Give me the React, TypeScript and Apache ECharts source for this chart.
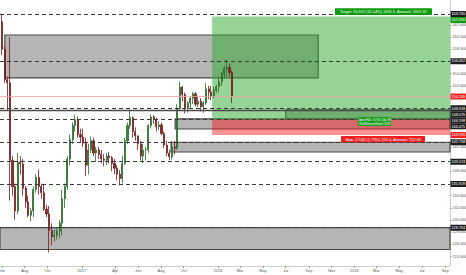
import React, { useEffect, useRef } from "react";
import * as echarts from "echarts";

const FONT = '"Liberation Sans", Arial, sans-serif';

// weekly candles (week starting Monday)
const candleWeeks = [
  "2016-05-30","2016-06-06","2016-06-13","2016-06-20","2016-06-27","2016-07-04","2016-07-11","2016-07-18","2016-07-25",
  "2016-08-01","2016-08-08","2016-08-15","2016-08-22","2016-08-29","2016-09-05","2016-09-12","2016-09-19","2016-09-26",
  "2016-10-03","2016-10-10","2016-10-17","2016-10-24","2016-10-31","2016-11-07","2016-11-14","2016-11-21","2016-11-28",
  "2016-12-05","2016-12-12","2016-12-19","2016-12-26","2017-01-02","2017-01-09","2017-01-16","2017-01-23","2017-01-30",
  "2017-02-06","2017-02-13","2017-02-20","2017-02-27","2017-03-06","2017-03-13","2017-03-20","2017-03-27","2017-04-03",
  "2017-04-10","2017-04-17","2017-04-24","2017-05-01","2017-05-08","2017-05-15","2017-05-22","2017-05-29","2017-06-05",
  "2017-06-12","2017-06-19","2017-06-26","2017-07-03","2017-07-10","2017-07-17","2017-07-24","2017-07-31","2017-08-07",
  "2017-08-14","2017-08-21","2017-08-28","2017-09-04","2017-09-11","2017-09-18","2017-09-25","2017-10-02","2017-10-09",
  "2017-10-16","2017-10-23","2017-10-30","2017-11-06","2017-11-13","2017-11-20","2017-11-27","2017-12-04","2017-12-11",
  "2017-12-18","2017-12-25","2018-01-01","2018-01-08","2018-01-15","2018-01-22","2018-01-29","2018-02-05"
];
const opens = [
  162.5,158.0,153.0,152.5,139.8,135.5,131.5,139.5,139.2,
  135.2,133.0,130.8,131.5,135.0,137.0,135.5,134.5,131.8,
  131.0,128.3,127.3,127.5,128.2,129.5,133.5,135.5,140.0,
  143.2,145.5,146.5,144.0,143.6,142.6,139.0,141.5,143.0,
  141.0,141.5,140.8,140.0,139.8,140.5,140.2,139.3,138.5,
  137.5,136.8,139.3,143.0,145.5,146.8,144.5,143.8,142.5,
  140.5,141.5,141.5,145.5,146.9,146.5,145.3,145.6,144.2,
  142.3,141.0,140.4,142.0,141.8,148.3,151.8,150.6,148.3,
  149.2,150.0,150.7,149.0,149.5,148.6,149.2,151.5,151.0,
  150.3,151.3,151.9,152.7,154.0,154.8,155.0,154.2
];
const highs = [
  163.8,158.5,153.5,160.0,140.5,136.0,141.0,140.5,140.0,
  135.6,134.0,132.0,135.5,137.5,138.3,136.0,135.8,132.5,
  132.3,129.5,128.5,128.8,130.0,135.0,136.0,140.5,144.0,
  146.0,147.3,147.0,145.0,145.0,143.5,142.5,143.7,143.5,
  142.0,142.0,141.5,140.8,141.0,141.2,140.5,140.0,139.0,
  138.2,140.5,143.5,146.0,148.1,147.0,145.2,143.9,143.0,
  142.5,142.0,145.7,147.3,147.2,146.8,146.2,146.0,144.5,
  143.0,141.5,143.0,143.0,149.0,152.7,152.0,150.9,149.5,
  150.2,151.0,151.0,150.2,150.0,149.5,152.5,152.0,152.0,
  151.8,152.2,153.3,154.3,155.3,156.3,155.7,154.5
];
const lows = [
  157.0,152.5,148.0,133.2,134.0,130.0,131.0,137.5,134.0,
  132.0,130.5,129.8,130.5,134.5,134.2,133.5,131.5,130.5,
  124.7,125.9,126.5,126.8,127.0,127.5,132.0,135.0,139.0,
  142.5,144.5,143.5,142.8,142.0,137.2,137.5,141.0,140.5,
  139.5,140.0,139.3,138.8,139.0,139.3,138.0,137.5,136.5,
  135.7,136.0,139.0,142.5,145.0,143.5,143.0,141.5,139.8,
  139.3,139.8,141.0,145.0,145.8,144.5,144.8,143.9,141.8,
  140.5,139.8,139.9,140.8,141.5,148.0,149.5,147.5,147.6,
  148.3,149.0,148.6,148.5,147.8,147.6,148.9,149.8,149.7,
  150.0,150.8,151.0,152.0,153.2,153.5,153.5,149.2
];
const closes = [
  158.0,153.0,152.5,139.8,135.5,131.5,139.5,139.2,135.2,
  133.0,130.8,131.5,135.0,137.0,135.5,134.5,131.8,131.0,
  128.3,127.3,127.5,128.2,129.5,133.5,135.5,140.0,143.2,
  145.5,146.5,144.0,143.6,142.6,139.0,141.5,143.0,141.0,
  141.5,140.8,140.0,139.8,140.5,140.2,139.3,138.5,137.5,
  136.8,139.3,143.0,145.5,146.8,144.5,143.8,142.5,140.5,
  141.5,141.5,145.5,146.9,146.5,145.3,145.6,144.2,142.3,
  141.0,140.4,142.0,141.8,148.3,151.8,150.6,148.3,149.2,
  150.0,150.7,149.0,149.5,148.6,149.2,151.5,151.0,150.3,
  151.3,151.9,152.7,154.0,154.8,155.0,154.2,150.249
];

const monthTicks = [
  "2016-06-01","2016-08-01","2016-10-01","2017-01-01","2017-04-01","2017-06-01","2017-08-01","2017-10-01",
  "2018-01-01","2018-03-01","2018-05-01","2018-07-01","2018-09-01","2018-11-01","2019-01-01","2019-03-01",
  "2019-05-01","2019-07-01","2019-09-01"
];
const monthNames = ["Jan","Feb","Mar","Apr","May","Jun","Jul","Aug","Sep","Oct","Nov","Dec"];
const priceTicks = [124,126,128,130,132,134,136,138,140,142,144,146,148,150,152,154,156,158,160,162,164];

// zones drawn on the chart (grey rectangles)
const boxStarts = ["2016-06-09","2017-09-08","2018-07-01","2017-08-28","2016-05-27"];
const boxEnds = ["2018-09-26","end","end","end","end"];
const boxTops = [160.34,146.598,148.07,142.758,128.764];
const boxBottoms = [153.30,144.93,146.598,141.16,125.18];

const dashedLevels = [163.765,156.052,148.318,146.598,142.758,139.574,135.928,128.764];
const solidLevels = [148.07];
const lastPrice = 150.249;

// long position tool
const positionStart = "2017-12-16";
const entryPrice = 146.475;
const targetPrice = 163.39;
const stopPrice = 143.945;

const axisMarkValues = [163.765,163.39,156.052,150.249,148.318,148.07,146.598,146.475,143.945,142.758,139.574,135.928,128.764];
const axisMarkKinds = ["line","target","line","price","line","line","line","line","stop","line","line","line","line"];

const targetText = "Target: 16.915 (11.54%) 1691.5, Amount: 2657.67";
const pnlText = "Open P&L: 3.774, Qty: 98\nRisk/Reward Ratio: 6.69";
const stopText = "Stop: 2.530 (1.73%) 253.0, Amount: 752.06";

const xStart = "2016-05-27";
const xEnd = "2019-09-14";
const yMin = 122.475;
const yMax = 166.08;

const toTime = (s: string) => {
  const [y, m, d] = s.split("-").map(Number);
  return new Date(y, m - 1, d).getTime();
};

const kindColor: Record<string, string> = {
  line: "#1e1e1e",
  target: "#0c9c0c",
  price: "#f02020",
  stop: "#f02020",
};

export default function App() {
  const ref = useRef<HTMLDivElement>(null);

  useEffect(() => {
    if (!ref.current) return;
    const chart = echarts.init(ref.current, undefined, { renderer: "svg" });
    const xMin = toTime(xStart);
    const xMax = toTime(xEnd);
    const tickTimes = monthTicks.map(toTime);
    const DAY = 86400000;

    const candleData = candleWeeks.map((w, i) => [
      toTime(w) + 2.5 * DAY,
      opens[i],
      closes[i],
      lows[i],
      highs[i],
    ]);

    const boxData = boxStarts.map((s, i) => [
      {
        xAxis: toTime(s),
        yAxis: boxTops[i],
        itemStyle: {
          color: "rgba(90,90,90,0.45)",
          borderColor: "#4a4a4a",
          borderWidth: 1.2,
        },
      },
      { xAxis: boxEnds[i] === "end" ? xMax : toTime(boxEnds[i]), yAxis: boxBottoms[i] },
    ]);

    const pStart = toTime(positionStart);
    const zoneData = [
      [
        { xAxis: pStart, yAxis: targetPrice, itemStyle: { color: "rgba(46,170,46,0.5)", borderWidth: 0 } },
        { xAxis: xMax, yAxis: entryPrice },
      ],
      [
        { xAxis: pStart, yAxis: entryPrice, itemStyle: { color: "rgba(255,0,0,0.42)", borderWidth: 0 } },
        { xAxis: xMax, yAxis: stopPrice },
      ],
    ];

    const lineData: any[] = [
      ...dashedLevels.map((v) => ({
        yAxis: v,
        lineStyle: { type: [4, 3], color: "#3a3a3a", width: 1 },
      })),
      ...solidLevels.map((v) => ({
        yAxis: v,
        lineStyle: { type: "solid", color: "#4a4a4a", width: 1.4 },
      })),
      { yAxis: lastPrice, lineStyle: { type: "solid", color: "#f5a0a0", width: 0.8 } },
    ];

    const option: any = {
      animation: false,
      backgroundColor: "#ffffff",
      textStyle: { fontFamily: FONT },
      grid: { left: 0, right: 16, top: 0, bottom: 9, containLabel: false, outerBoundsMode: "none" },
      xAxis: {
        type: "value",
        min: xMin,
        max: xMax,
        splitLine: { show: false },
        axisLine: { show: true, onZero: false, lineStyle: { color: "#cfcfcf", width: 1 } },
        axisTick: { show: true, length: 2, customValues: tickTimes, lineStyle: { color: "#9a9a9a" } },
        axisLabel: {
          customValues: tickTimes,
          formatter: (val: number) => {
            const dt = new Date(val);
            const m = dt.getMonth();
            return m === 0 ? String(dt.getFullYear()) : monthNames[m];
          },
          fontSize: 3.9,
          color: "#555",
          margin: 2.5,
          fontFamily: FONT,
        },
      },
      yAxis: {
        type: "value",
        position: "right",
        min: yMin,
        max: yMax,
        splitLine: { show: false },
        axisLine: { show: true, lineStyle: { color: "#cfcfcf", width: 1 } },
        axisTick: { show: true, length: 1.5, customValues: priceTicks, lineStyle: { color: "#9a9a9a" } },
        axisLabel: {
          customValues: priceTicks,
          formatter: (v: number) => v.toFixed(3),
          fontSize: 3.8,
          color: "#555",
          margin: 2.5,
          fontFamily: FONT,
        },
      },
      series: [
        {
          type: "candlestick",
          z: 2,
          barWidth: 1.6,
          data: candleData,
          itemStyle: {
            color: "#3a8a3a",
            color0: "#8f2a2a",
            borderColor: "#2b6a2b",
            borderColor0: "#6e1d1d",
            borderWidth: 0.8,
          },
        },
        {
          type: "line",
          z: 3,
          data: [],
          silent: true,
          markArea: { silent: true, data: boxData },
        },
        {
          type: "line",
          z: 4,
          data: [],
          silent: true,
          markArea: { silent: true, data: zoneData },
        },
        {
          type: "line",
          z: 5,
          data: [],
          silent: true,
          markLine: {
            silent: true,
            symbol: ["none", "none"],
            label: { show: false },
            data: lineData,
          },
        },
      ],
    };

    chart.setOption(option);

    const py = (v: number) => chart.convertToPixel({ yAxisIndex: 0 }, v) as number;
    const marks = axisMarkValues
      .map((v, i) => ({ v, kind: axisMarkKinds[i], y: py(v) }))
      .sort((a, b) => a.y - b.y);
    for (let i = 1; i < marks.length; i++) {
      if (marks[i].y < marks[i - 1].y + 6) marks[i].y = marks[i - 1].y + 6;
    }
    const visibleTicks = priceTicks.filter((t) => marks.every((m) => Math.abs(py(t) - m.y) >= 4.5));

    const txt = (text: string, x: number, y: number, size: number, fill: string, extra: any = {}) => ({
      type: "text",
      x,
      y,
      z: 101,
      silent: true,
      style: {
        text,
        fill,
        fontSize: size,
        fontFamily: FONT,
        align: "center",
        verticalAlign: "middle",
        textAlign: "center",
        textVerticalAlign: "middle",
        ...extra,
      },
    });
    const rect = (x: number, y: number, w: number, h: number, fill: string) => ({
      type: "rect",
      z: 100,
      silent: true,
      shape: { x, y, width: w, height: h, r: 0.5 },
      style: { fill },
    });

    const graphics: any[] = [];
    marks.forEach((m) => {
      graphics.push(rect(450.5, m.y - 3, 15.5, 6, kindColor[m.kind]));
      graphics.push(txt(m.v.toFixed(3), 458.3, m.y + 0.2, 3.8, "#fff"));
    });

    const yT = py(targetPrice);
    const yE = py(entryPrice);
    const yS = py(stopPrice);
    graphics.push(rect(335, yT - 8.1, 97, 6.7, "#0c9c0c"));
    graphics.push(txt(targetText, 383.5, yT - 4.7, 3.95, "#fff"));
    graphics.push(rect(358, yE - 2.6, 33, 9, "#1b9e1b"));
    graphics.push(txt(pnlText, 374.5, yE + 1.9, 2.9, "#fff", { lineHeight: 3.7 }));
    graphics.push(rect(341, yS + 1, 84, 6.3, "#f01e1e"));
    graphics.push(txt(stopText, 383, yS + 4.2, 3.95, "#fff"));

    chart.setOption({
      yAxis: {
        axisLabel: { customValues: visibleTicks },
        axisTick: { customValues: visibleTicks },
      },
      graphic: graphics,
    });

    return () => chart.dispose();
  }, []);

  return (
    <div
      ref={ref}
      style={{ position: "absolute", left: 0, top: 0, width: 466, height: 275, background: "#fff" }}
    />
  );
}
